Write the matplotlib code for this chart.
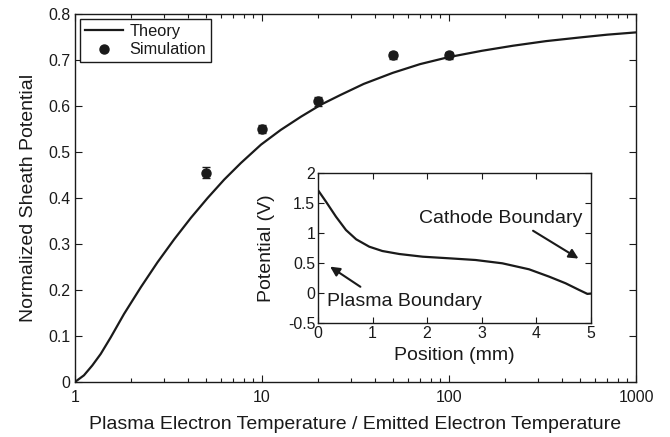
import numpy as np
import matplotlib
matplotlib.use('Agg')
import matplotlib.pyplot as plt
from matplotlib.ticker import FixedLocator, FuncFormatter, LogLocator, NullFormatter

plt.rcParams['font.family'] = ['Liberation Sans', 'DejaVu Sans']
plt.rcParams['axes.unicode_minus'] = False

# theory curve
theory_x = [1, 1.117, 1.238, 1.373, 1.553, 1.83, 2.25, 2.76, 3.39, 4.17,
            5.12, 6.28, 7.71, 9.88, 12.6, 16.2, 20.7, 26.3, 35, 50,
            70, 99, 150, 220, 330, 502, 700, 1000]
theory_y = [0, 0.0145, 0.036, 0.061, 0.097, 0.148, 0.206, 0.26, 0.31, 0.357,
            0.40, 0.44, 0.476, 0.516, 0.548, 0.577, 0.603, 0.624, 0.648, 0.672,
            0.691, 0.706, 0.72, 0.731, 0.741, 0.749, 0.755, 0.760]

# simulation points
sim_x = [5, 10, 20, 50, 100]
sim_y = [0.455, 0.55, 0.61, 0.71, 0.71]
sim_err = [0.012, 0.009, 0.01, 0.008, 0.008]

# inset: potential profile
pos_mm = [0, 0.147, 0.33, 0.513, 0.70, 0.94, 1.18, 1.49, 1.92, 2.41,
          2.89, 3.38, 3.87, 4.24, 4.54, 4.79, 4.94, 5.0]
pot_v = [1.72, 1.527, 1.277, 1.055, 0.90, 0.777, 0.705, 0.655, 0.61, 0.583,
         0.555, 0.50, 0.40, 0.277, 0.167, 0.055, -0.01, -0.005]

ink = '#1a1a1a'
tick_fs = 11.4
label_fs = 14

fig = plt.figure(figsize=(6.7, 4.37), dpi=100)
ax = fig.add_axes([0.1119, 0.1259, 0.8374, 0.8421])

ax.plot(theory_x, theory_y, color=ink, lw=1.6, label='Theory')
ax.errorbar(sim_x, sim_y, yerr=sim_err, fmt='none', ecolor=ink,
            elinewidth=1.0, capsize=3, capthick=1.0)
ax.plot(sim_x, sim_y, 'o', color=ink, ms=6.5, label='Simulation')

ax.set_xscale('log')
ax.set_xlim(1, 1000)
ax.set_ylim(0, 0.8)
ax.xaxis.set_major_locator(FixedLocator([1, 10, 100, 1000]))
ax.xaxis.set_major_formatter(FuncFormatter(lambda v, p: '%g' % v))
ax.xaxis.set_minor_locator(LogLocator(base=10, subs=np.arange(2, 10)))
ax.xaxis.set_minor_formatter(NullFormatter())
ax.yaxis.set_major_locator(FixedLocator(np.arange(0, 0.81, 0.1)))
ax.yaxis.set_major_formatter(FuncFormatter(lambda v, p: '%g' % round(v, 1)))

ax.tick_params(which='both', direction='in', top=True, right=True,
               labelsize=tick_fs, colors=ink, width=0.8)
ax.tick_params(axis='x', which='both', pad=6)
ax.tick_params(which='major', length=5)
ax.tick_params(which='minor', length=3)
for s in ax.spines.values():
    s.set_linewidth(1.0)
    s.set_color(ink)

ax.set_xlabel('Plasma Electron Temperature / Emitted Electron Temperature',
              fontsize=label_fs, color=ink, labelpad=8)
ax.set_ylabel('Normalized Sheath Potential', fontsize=label_fs, color=ink,
              labelpad=8)

leg = ax.legend(loc='upper left', bbox_to_anchor=(0.009, 0.986), borderaxespad=0,
                fontsize=11.8, fancybox=False, edgecolor=ink, framealpha=1,
                handlelength=2.3, borderpad=0.3, labelspacing=0.2,
                handletextpad=0.4)
leg.get_frame().set_linewidth(1.0)
for t in leg.get_texts():
    t.set_color(ink)

# inset
ins = fig.add_axes([0.4746, 0.2602, 0.4070, 0.3432])
ins.plot(pos_mm, pot_v, color=ink, lw=1.6)
ins.set_xlim(0, 5)
ins.set_ylim(-0.5, 2)
ins.xaxis.set_major_locator(FixedLocator([0, 1, 2, 3, 4, 5]))
ins.yaxis.set_major_locator(FixedLocator([-0.5, 0, 0.5, 1, 1.5, 2]))
ins.yaxis.set_major_formatter(FuncFormatter(lambda v, p: '%g' % v))
ins.tick_params(direction='in', top=True, right=True, labelsize=tick_fs,
                colors=ink, length=4, width=0.8, pad=2)
for s in ins.spines.values():
    s.set_linewidth(1.0)
    s.set_color(ink)
ins.set_xlabel('Position (mm)', fontsize=label_fs, color=ink, labelpad=4)
ins.set_ylabel('Potential (V)', fontsize=label_fs, color=ink, labelpad=9)

ins.annotate('', xy=(4.82, 0.555), xytext=(3.90, 1.067),
             arrowprops=dict(arrowstyle='-|>', color=ink, lw=1.5,
                             mutation_scale=14))
ins.annotate('', xy=(0.18, 0.47), xytext=(0.82, 0.083),
             arrowprops=dict(arrowstyle='-|>', color=ink, lw=1.5,
                             mutation_scale=14))
ins.text(3.35, 1.25, 'Cathode Boundary', ha='center', va='center',
         fontsize=label_fs, color=ink)
ins.text(1.59, -0.14, 'Plasma Boundary', ha='center', va='center',
         fontsize=label_fs, color=ink)

fig.savefig('out.png', dpi=100)
